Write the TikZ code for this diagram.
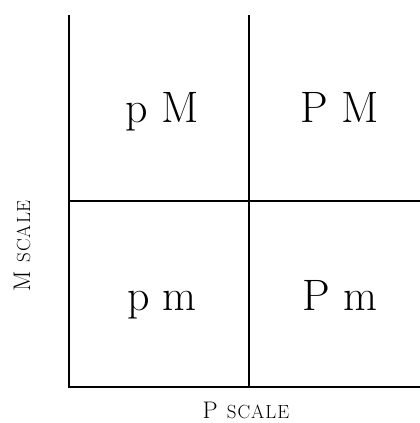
\documentclass[tikz,border=0pt]{standalone}
\begin{document}
\begin{tikzpicture}[x=1pt,y=-1pt,
  gridline/.style={line width=1.5pt,black},
  cell/.style={anchor=base,inner sep=0pt,font=\fontsize{44}{50}\selectfont},
  axislabel/.style={anchor=base,inner sep=0pt,font=\fontsize{24}{28}\selectfont}]
\useasboundingbox (0,0) rectangle (420,423);
\coordinate (tl) at (69,15);
\coordinate (tm) at (249,15);
\coordinate (ml) at (69,201);
\coordinate (mr) at (420,201);
\coordinate (bl) at (69,387);
\coordinate (bm) at (249,387);
\coordinate (br) at (420,387);
\draw[gridline] (tl) -- (bl) -- (br);
\draw[gridline] (tm) -- (bm);
\draw[gridline] (ml) -- (mr);
\node[cell] (pM) at (162,122) {p M};
\node[cell] (PM) at (340,122) {P M};
\node[cell] (pm) at (162,310) {p m};
\node[cell] (Pm) at (340,310) {P m};
\node[axislabel] (ps) at (246,418) {P\hspace{9pt}{\fontsize{19}{24}\selectfont S\kern1pt C\kern1pt A\kern1pt L\kern1pt E}};
\node[axislabel,rotate=90] (ms) at (30,246) {M\hspace{9pt}{\fontsize{19}{24}\selectfont S\kern1pt C\kern1pt A\kern1pt L\kern1pt E}};
\end{tikzpicture}
\end{document}
